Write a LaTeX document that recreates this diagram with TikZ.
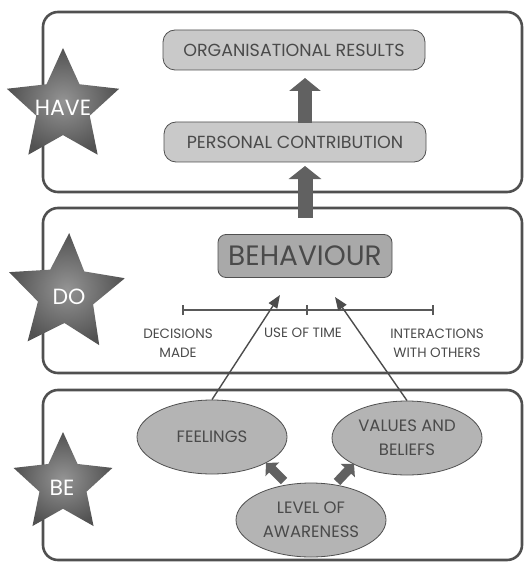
\documentclass[tikz,border=0pt]{standalone}
\usepackage{fontspec}
\setmainfont{Poppins}
\usetikzlibrary{shapes.geometric,arrows.meta}
\definecolor{edge}{HTML}{505050}
\definecolor{txt}{HTML}{4A4A4A}
\definecolor{lightfill}{HTML}{C9C9C9}
\definecolor{midfill}{HTML}{A9A9A9}
\definecolor{ellfill}{HTML}{B4B4B4}
\tikzset{
  panel/.style={draw=edge, line width=2.6pt, rounded corners=15pt},
  resbox/.style={draw=edge, line width=0.8pt, fill=lightfill, rounded corners=12pt,
    minimum width=262pt, minimum height=40pt, text=txt, font=\fontsize{17.5}{20}\selectfont},
  behbox/.style={draw=edge, line width=0.8pt, fill=midfill, rounded corners=8pt,
    minimum width=174pt, minimum height=43pt, text=txt, font=\fontsize{28}{32}\selectfont},
  oval/.style={ellipse, draw=edge, line width=0.8pt, fill=ellfill, minimum width=150pt,
    minimum height=74pt, inner sep=0pt, text=txt, align=center, font=\fontsize{16.5}{24}\selectfont},
  starshape/.style={star, star points=5, star point ratio=2.1, inner sep=0pt,
    inner color=black!42, outer color=black!68, draw=none},
  startext/.style={text=white, font=\fontsize{22}{24}\selectfont},
  lbl/.style={text=txt, align=center, font=\fontsize{13.5}{19}\selectfont},
  blockarrow/.style={draw=black!62, line cap=butt},
  thinarrow/.style={draw=black!70, line width=1.4pt, -{Triangle[width=10pt,length=13pt]}},
}
\begin{document}
\begin{tikzpicture}[x=1pt,y=-1pt]
\useasboundingbox (0,0) rectangle (528,572);
% panels
\draw[panel] (43,12) rectangle (522,192);
\draw[panel] (43,208) rectangle (522,373);
\draw[panel] (43,390) rectangle (522,560);
% HAVE
\node[resbox] (org) at (294,50) {ORGANISATIONAL RESULTS};
\node[resbox] (pc) at (295,142) {PERSONAL CONTRIBUTION};
% DO
\node[behbox] (beh) at (305,256) {BEHAVIOUR};
\coordinate (upA) at (305,123);
\coordinate (upB) at (305,78);
\coordinate (lowA) at (305,218);
\coordinate (lowB) at (305,166);
\draw[blockarrow, line width=14pt, -{Triangle[width=31pt,length=13pt]}] (upA) -- (upB);
\draw[blockarrow, line width=15pt, -{Triangle[width=32pt,length=13pt]}] (lowA) -- (lowB);
% timeline
\coordinate (t1) at (183,310);
\coordinate (t2) at (307,310);
\coordinate (t3) at (433,310);
\draw[draw=black!65, line width=1.1pt] (t1) -- (t3);
\foreach \p in {t1,t2,t3} \draw[draw=black!65, line width=1.1pt] ([yshift=-5pt]\p) -- ([yshift=5pt]\p);
\node[lbl] (dm) at (178,343) {DECISIONS\\MADE};
\node[lbl] (ut) at (303,333) {USE OF TIME};
\node[lbl] (iw) at (437,343) {INTERACTIONS\\WITH OTHERS};
% BE
\node[oval] (fe) at (212,437) {FEELINGS};
\node[oval] (va) at (407,438) {VALUES AND\\BELIEFS};
\node[oval] (lv) at (311,520) {LEVEL OF\\AWARENESS};
\coordinate (feTip) at (280,295);
\coordinate (vaTip) at (335,297);
\draw[thinarrow] (fe.north) -- (feTip);
\draw[thinarrow] (va.north) -- (vaTip);
\coordinate (sa1) at (284,481);
\coordinate (sa1e) at (266,463);
\coordinate (sa2) at (337,482);
\coordinate (sa2e) at (354,464);
\draw[blockarrow, line width=9pt, -{Triangle[width=19pt,length=9pt]}] (sa1) -- (sa1e);
\draw[blockarrow, line width=9pt, -{Triangle[width=19pt,length=9pt]}] (sa2) -- (sa2e);
% stars
\node[starshape, minimum size=118pt] (sHave) at (63,107) {};
\node[startext] (tHave) at (63,108) {HAVE};
\node[starshape, minimum size=122pt, rotate=-3] (sDo) at (66,294) {};
\node[startext] (tDo) at (69,297) {DO};
\node[starshape, minimum size=104pt] (sBe) at (63,484) {};
\node[startext] (tBe) at (62,488) {BE};
\end{tikzpicture}
\end{document}
